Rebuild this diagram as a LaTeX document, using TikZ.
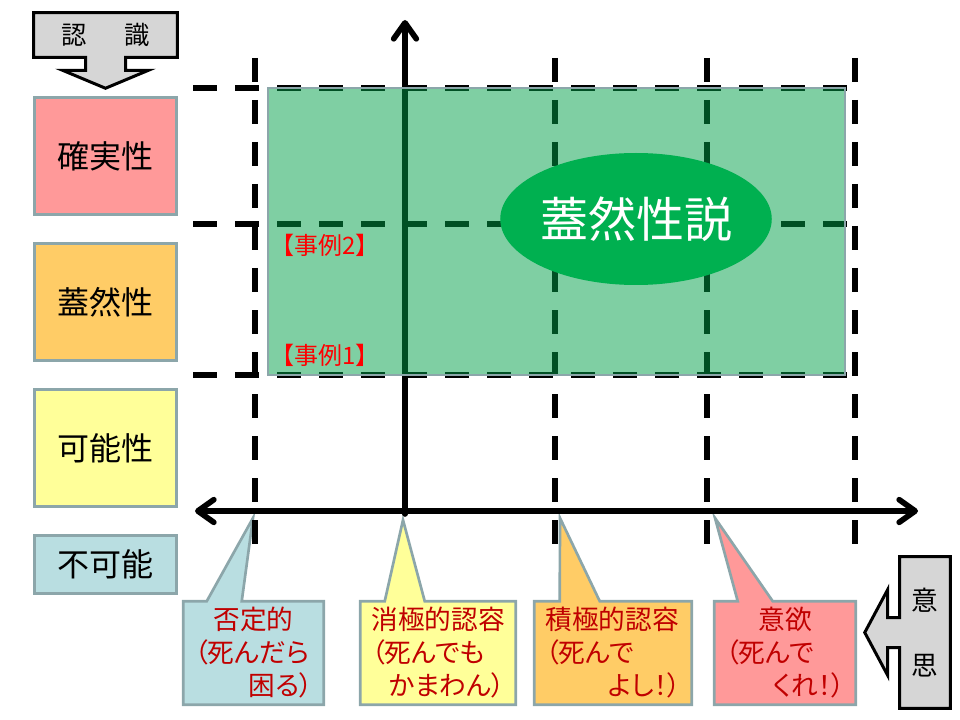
\documentclass[tikz,border=0pt]{standalone}
\usepackage{fontspec}
\setmainfont{Noto Sans CJK JP}[RawFeature=+palt]
\usetikzlibrary{positioning, arrows.meta, calc, backgrounds, shapes.geometric}

\definecolor{edgegray}{RGB}{140,166,170}
\definecolor{kakured}{HTML}{FF9999}
\definecolor{gaiorange}{HTML}{FFCC66}
\definecolor{kayellow}{HTML}{FFFF99}
\definecolor{fublue}{RGB}{185,222,225}
\definecolor{zonegreen}{RGB}{0,160,72}
\definecolor{setsugreen}{RGB}{0,176,80}
\definecolor{arrowgray}{RGB}{214,214,214}
\definecolor{calltextred}{HTML}{C00000}
\definecolor{casered}{HTML}{FF0000}

\begin{document}
\begin{tikzpicture}[
        x=0.75pt, y=-0.75pt,
        barb/.tip={Straight Barb[length=12pt, width=17pt, round]},
        gridline/.style={line width=4.25pt, dash pattern=on 18pt off 13.5pt},
        axisline/.style={line width=4.25pt, line cap=round},
        zonebox/.style={draw=edgegray, line width=2pt, fill=zonegreen, fill opacity=0.5},
        setsu/.style={ellipse, fill=setsugreen, minimum width=202.5pt, minimum height=99pt, inner sep=0pt, text=white, font=\fontsize{36}{40}\selectfont},
        caselabel/.style={inner sep=0pt, text=casered, font=\fontsize{18}{20}\selectfont},
        levelbox/.style={rectangle, draw=edgegray, line width=2pt, minimum width=106.5pt, minimum height=88pt, inner sep=0pt, font=\fontsize{24}{28}\selectfont},
        calltext/.style={inner xsep=8.25pt, inner ysep=0pt, minimum height=77.25pt, align=left, text=calltextred, font=\fontsize{20}{24.75}\selectfont},
        callshape/.style={draw=edgegray, line width=2pt},
        blockarrow/.style={draw=black, line width=2.25pt, fill=arrowgray},
        blocktext/.style={inner sep=0pt, align=center}
    ]
        \useasboundingbox (0,0) rectangle (960,720);

        % Grid
        \foreach \x in {255,555,707,855}
            \draw[gridline] (\x,58) -- (\x,544);
        \foreach \y in {88,224,375}
            \draw[gridline] (193,\y) -- (850,\y);

        % Axes
        \coordinate (xleft) at (195,511);
        \coordinate (xright) at (918,511);
        \coordinate (ybottom) at (405,514);
        \coordinate (ytop) at (405,20);
        \draw[axisline, barb-barb] (xleft) -- (xright);
        \draw[axisline, -barb] (ybottom) -- (ytop);

        % Zone
        \draw[zonebox] (268,88) rectangle (845,375);
        \foreach \d in {12,9,6,3}
            \fill[setsugreen, opacity=0.22] (636,219) ellipse [x radius={(101+\d)*0.75pt}, y radius={(49.5+\d)*0.75pt}];
        \node[setsu] (gaizensetsu) at (636,219) {蓋然性説};
        \node[caselabel] (case2) at (325,245) {【事例2】};
        \node[caselabel] (case1) at (325,355) {【事例1】};

        % Levels
        \node[levelbox, fill=kakured] (kakujitsu) at (105.5,156) {確実性};
        \node[levelbox, fill=gaiorange, below=19.5pt of kakujitsu] (gaizen) {蓋然性};
        \node[levelbox, fill=kayellow, below=19.5pt of gaizen] (kanou) {可能性};
        \node[levelbox, fill=fublue, minimum height=43.5pt, below=19.5pt of kanou] (fukanou) {不可能};

        % Callouts
        \coordinate (tip1) at (253,518);
        \coordinate (tip2) at (403,520);
        \coordinate (tip3) at (560,518);
        \coordinate (tip4) at (715,518);
        \node[calltext, text width=88.5pt] (hitei) at (253.5,653) {\hspace*{\fill}否定的\hspace*{\fill}\mbox{}\\（死んだら\\\hspace*{\fill}困る）};
        \node[calltext, text width=99.75pt] (shoukyoku) at (438,653) {消極的認容\\（死んでも\\\hspace*{\fill}かまわん）};
        \node[calltext, text width=101.25pt] (sekkyoku) at (613,653) {積極的認容\\（死んで\\\hspace*{\fill}よし！）};
        \node[calltext, text width=89.25pt] (iyoku) at (785,653) {\hspace*{\fill}意欲\hspace*{\fill}\mbox{}\\（死んで\\\hspace*{\fill}くれ！）};

        % Block arrows
        \node[blocktext, minimum width=107.25pt, minimum height=33pt, font=\fontsize{19}{22}\selectfont] (ninshiki) at (105.5,35) {認\hspace{1.5em}識};
        \node[blocktext, minimum width=37.5pt, minimum height=113.25pt, font=\fontsize{20}{48.75}\selectfont] (ishi) at (925,632.5) {意\\思};

        \begin{scope}[on background layer]
            \draw[callshape, fill=fublue] (hitei.south west) -- (hitei.north west) -- ($(hitei.north west)+(23.5,0)$) -- (tip1) -- ($(hitei.north west)+(58.5,0)$) -- (hitei.north east) -- (hitei.south east) -- cycle;
            \draw[callshape, fill=kayellow] (shoukyoku.south west) -- (shoukyoku.north west) -- ($(shoukyoku.north west)+(24.5,0)$) -- (tip2) -- ($(shoukyoku.north west)+(64.5,0)$) -- (shoukyoku.north east) -- (shoukyoku.south east) -- cycle;
            \draw[callshape, fill=gaiorange] (sekkyoku.south west) -- (sekkyoku.north west) -- ($(sekkyoku.north west)+(25.5,0)$) -- (tip3) -- ($(sekkyoku.north west)+(65.5,0)$) -- (sekkyoku.north east) -- (sekkyoku.south east) -- cycle;
            \draw[callshape, fill=kakured] (iyoku.south west) -- (iyoku.north west) -- ($(iyoku.north west)+(23.5,0)$) -- (tip4) -- ($(iyoku.north west)+(58.5,0)$) -- (iyoku.north east) -- (iyoku.south east) -- cycle;

            \draw[blockarrow] (ninshiki.north west) -- (ninshiki.north east) -- (ninshiki.south east)
                -- ($(ninshiki.south)+(20,0)$) -- ($(ninshiki.south)+(20,13)$) -- ($(ninshiki.south)+(43,13)$)
                -- ($(ninshiki.south)+(0,31)$)
                -- ($(ninshiki.south)+(-43,13)$) -- ($(ninshiki.south)+(-20,13)$) -- ($(ninshiki.south)+(-20,0)$)
                -- (ninshiki.south west) -- cycle;
            \draw[blockarrow] (ishi.north west) -- (ishi.north east) -- (ishi.south east) -- (ishi.south west)
                -- ($(ishi.west)+(0,15)$) -- ($(ishi.west)+(-12,15)$) -- ($(ishi.west)+(-12,43)$)
                -- ($(ishi.west)+(-35,0)$)
                -- ($(ishi.west)+(-12,-43)$) -- ($(ishi.west)+(-12,-15)$) -- ($(ishi.west)+(0,-15)$) -- cycle;
        \end{scope}
    \end{tikzpicture}
\end{document}
